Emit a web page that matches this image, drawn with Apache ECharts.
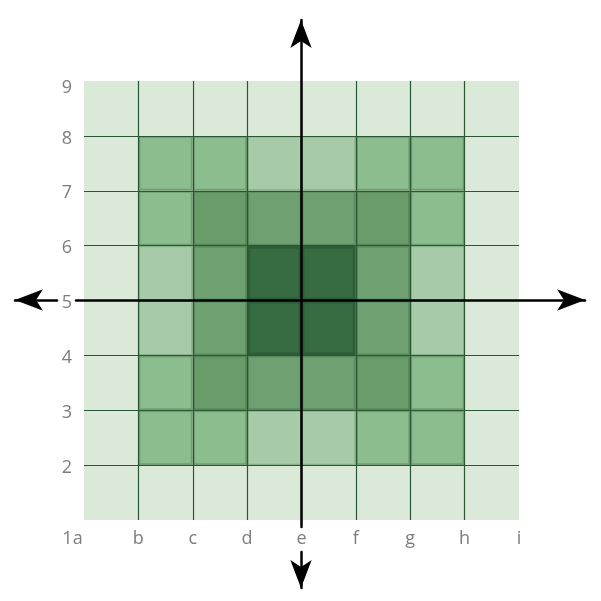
<!DOCTYPE html>
<html><head><meta charset="utf-8">
<script src="https://cdn.jsdelivr.net/npm/echarts@6/dist/echarts.min.js"></script>
<style>html,body{margin:0;padding:0;background:#fff}#c{width:601px;height:601px}</style>
</head><body><div id="c"></div>
<script>
const xLabels = ['1a','b','c','d','e','f','g','h','i'];
const yLabels = ['', '2','3','4','5','6','7','8','9'];
// shading level of each cell, rows from top (y 8-9) to bottom (y 1-2), columns a..h
const levelRows = [
  [0,0,0,0,0,0,0,0],
  [0,2,2,1,1,2,2,0],
  [0,2,4,3,3,4,2,0],
  [0,1,3,5,5,3,1,0],
  [0,1,3,5,5,3,1,0],
  [0,2,4,3,3,4,2,0],
  [0,2,2,1,1,2,2,0],
  [0,0,0,0,0,0,0,0]
];
const fillColors = ['#dbe9d9','#a7cba8','#8cbd8f','#6fa072','#6a9b6a','#376c43'];
const strokeColors = [null,'#86b087','#6f9f72','#5a8a5d','#57875a','#2d5c36'];
const strokeWidths = [0,1.5,2,2,2,3];

const cells = [];
levelRows.forEach((row, r) => {
  row.forEach((lvl, c) => { cells.push([c, 8 - r, lvl]); });
});

const chart = echarts.init(document.getElementById('c'));
const labelFont = {fontFamily:'Open Sans', fontSize:18, color:'#7d7d7d'};
const f = (extra) => Object.assign({}, labelFont, extra);
const gridLine = {show:true, showMinLine:false, showMaxLine:false, lineStyle:{color:'#2a5634', width:1.2}};
const arrowLine = (sym) => ({show:true, onZero:true, symbol:sym, symbolSize:[16,28], lineStyle:{color:'#000', width:2.5}});
const hidden = {axisLine:{show:false}, axisTick:{show:false}, axisLabel:{show:false}, splitLine:{show:false}};
chart.setOption({
  animation:false,
  grid:[
    {left:84, right:82, top:81, bottom:81},
    {left:76, right:16, top:20, bottom:74},
    {left:76, right:16, top:552, bottom:13},
    {left:15, right:544, top:20, bottom:74}
  ],
  xAxis:[
    {gridIndex:0, type:'value', position:'bottom', min:0, max:8, interval:1, z:5,
     axisLine:{show:false}, axisTick:{show:false}, splitLine:gridLine,
     axisLabel:f({margin:5, padding:[5,4,5,4],
       formatter:(v)=> v===0 ? '{f|1a}' : xLabels[v],
       rich:{f:f({padding:[0,23,0,0]})}})},
    Object.assign({gridIndex:1, type:'value', min:-225, max:284, z:10}, hidden, {axisLine:arrowLine(['none','arrow'])}),
    Object.assign({gridIndex:2, type:'value', min:-225, max:284, z:10}, hidden),
    Object.assign({gridIndex:3, type:'value', min:0, max:1, z:10}, hidden, {axisLine:arrowLine(['arrow','none'])})
  ],
  yAxis:[
    {gridIndex:0, type:'value', position:'left', min:1, max:9, interval:1, z:5,
     axisLine:{show:false}, axisTick:{show:false}, splitLine:gridLine,
     axisLabel:f({margin:9, padding:[5,3,0,4],
       formatter:(v)=> v===9 ? '{t|9}' : yLabels[v-1],
       rich:{t:f({padding:[9,0,0,0]})}})},
    Object.assign({gridIndex:1, type:'value', min:-227, max:280, z:10}, hidden, {axisLine:arrowLine(['none','arrow'])}),
    Object.assign({gridIndex:2, type:'value', min:0, max:1, z:10}, hidden, {axisLine:arrowLine(['arrow','none'])}),
    Object.assign({gridIndex:3, type:'value', min:-227, max:280, z:10}, hidden)
  ],
  series:[{
    type:'custom', xAxisIndex:0, yAxisIndex:0, data:cells, encode:{x:0,y:1},
    renderItem:(params, api)=>{
      const x = api.value(0), y = api.value(1), lvl = api.value(2);
      const p0 = api.coord([x, y+1]), p1 = api.coord([x+1, y]);
      const w = strokeWidths[lvl], h = w/2;
      return {type:'rect',
        shape:{x:p0[0]+h, y:p0[1]+h, width:p1[0]-p0[0]-w, height:p1[1]-p0[1]-w},
        style:{fill:fillColors[lvl], stroke:strokeColors[lvl], lineWidth:w}};
    }
  }]
});
</script></body></html>
